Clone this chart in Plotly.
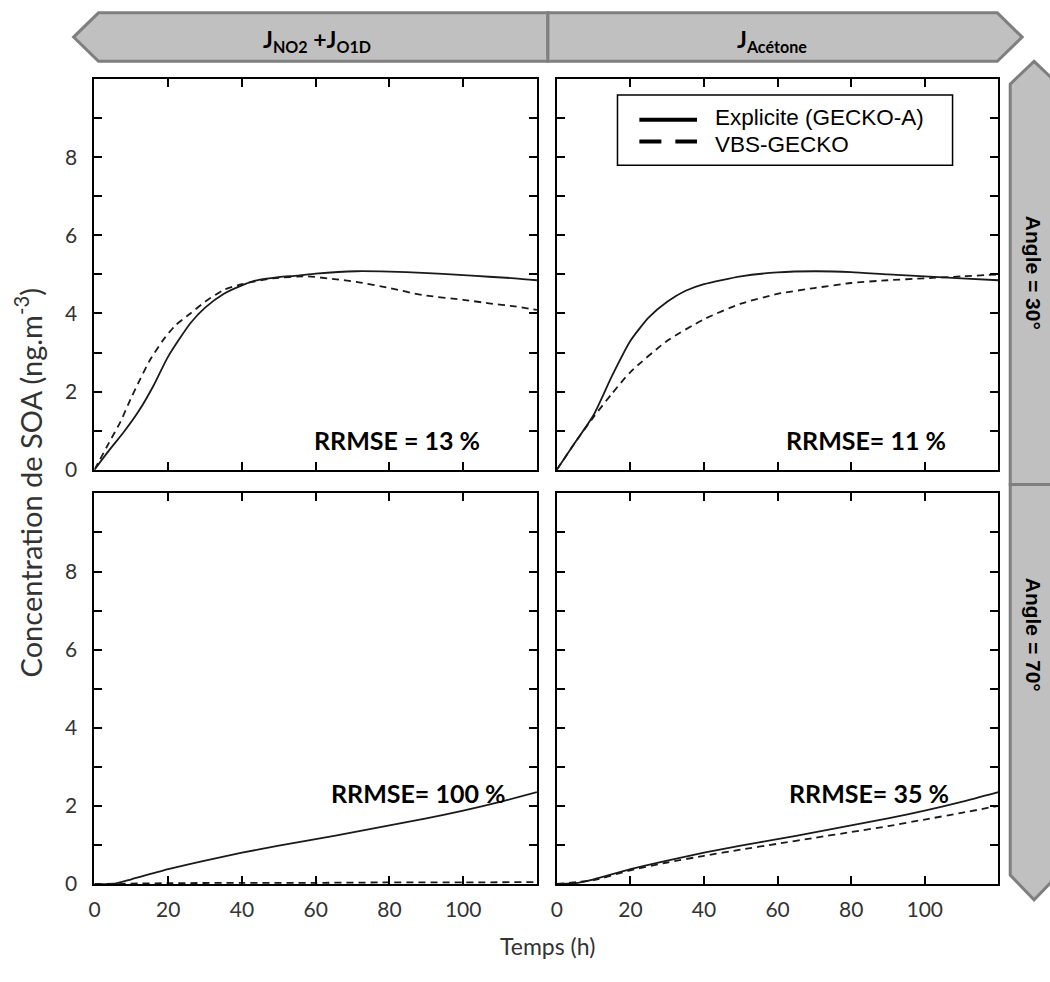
import plotly.graph_objects as go

# ---------------- data ----------------
t_tl_exp = [0, 4, 8, 12, 16, 20, 26, 30, 35, 40, 44, 50, 55, 60, 71, 80, 89, 100, 107, 114, 120]
c_tl_exp = [0, 0.5, 0.97, 1.5, 2.15, 2.9, 3.75, 4.15, 4.5, 4.72, 4.85, 4.93, 4.97, 5.02, 5.08, 5.07, 5.04, 4.98, 4.94, 4.9, 4.85]
t_tl_vbs = [0, 4, 7, 10, 12.4, 15, 18.7, 22, 26, 30, 35, 40, 48.5, 57.5, 65, 71, 80, 89, 100, 107, 114, 120]
c_tl_vbs = [0, 0.7, 1.22, 1.85, 2.32, 2.8, 3.33, 3.7, 4.0, 4.3, 4.6, 4.75, 4.9, 4.95, 4.88, 4.81, 4.65, 4.47, 4.35, 4.26, 4.18, 4.09]

t_tr_exp = [0, 5, 10, 15, 20, 25, 30, 35, 40, 50, 60, 70, 80, 90, 100, 110, 120]
c_tr_exp = [0, 0.7, 1.4, 2.4, 3.3, 3.9, 4.3, 4.58, 4.75, 4.95, 5.05, 5.08, 5.06, 5.0, 4.95, 4.9, 4.85]
t_tr_vbs = [0, 5, 10, 15, 20, 30, 40, 50, 60, 70, 80, 90, 100, 110, 120]
c_tr_vbs = [0, 0.7, 1.35, 1.95, 2.5, 3.3, 3.85, 4.25, 4.5, 4.65, 4.78, 4.85, 4.9, 4.95, 5.0]

t_bl_exp = [0, 5, 10, 20, 30, 40, 50, 60, 70, 80, 90, 100, 110, 120]
c_bl_exp = [0, 0.0, 0.12, 0.38, 0.6, 0.8, 0.98, 1.15, 1.32, 1.5, 1.68, 1.88, 2.1, 2.35]
t_bl_vbs = [0, 20, 40, 60, 80, 100, 120]
c_bl_vbs = [0, 0.02, 0.03, 0.03, 0.04, 0.04, 0.05]

t_br_exp = [0, 5, 10, 20, 30, 40, 50, 60, 70, 80, 90, 100, 110, 120]
c_br_exp = [0, 0.02, 0.12, 0.38, 0.6, 0.8, 0.98, 1.15, 1.32, 1.5, 1.68, 1.88, 2.1, 2.35]
t_br_vbs = [0, 10, 20, 30, 40, 50, 60, 70, 80, 90, 100, 110, 120]
c_br_vbs = [0, 0.1, 0.35, 0.55, 0.72, 0.88, 1.03, 1.18, 1.33, 1.48, 1.65, 1.82, 2.0]

x_tickvals = [0, 20, 40, 60, 80, 100]
y_tickvals = [0, 2, 4, 6, 8]
y_minorvals = [1, 3, 5, 7, 9]

rrmse_labels = ["RRMSE = 13 %", "RRMSE= 11 %", "RRMSE= 100 %", "RRMSE= 35 %"]
col_labels = ["<b>J<sub>NO2</sub> +J<sub>O1D</sub></b>", "<b>J<sub>Acétone</sub></b>"]
row_labels = ["<b>Angle = 30°</b>", "<b>Angle = 70°</b>"]
legend_labels = ["Explicite (GECKO-A)", "VBS-GECKO"]

# ---------------- helpers ----------------
W, H = 1050, 982
def X(px):
    return px / W
def Y(py):
    return 1 - py / H

FONT = "Lato"
fig = go.Figure()

panels = [
    ("x", "y", t_tl_exp, c_tl_exp, t_tl_vbs, c_tl_vbs),
    ("x2", "y2", t_tr_exp, c_tr_exp, t_tr_vbs, c_tr_vbs),
    ("x3", "y3", t_bl_exp, c_bl_exp, t_bl_vbs, c_bl_vbs),
    ("x4", "y4", t_br_exp, c_br_exp, t_br_vbs, c_br_vbs),
]
for xa, ya, te, ce, tv, cv in panels:
    fig.add_trace(go.Scatter(x=te, y=ce, mode="lines", xaxis=xa, yaxis=ya,
                             line=dict(color="#1a1a1a", width=1.8, shape="spline", smoothing=0.6),
                             showlegend=False, hoverinfo="skip"))
    fig.add_trace(go.Scatter(x=tv, y=cv, mode="lines", xaxis=xa, yaxis=ya,
                             line=dict(color="#1a1a1a", width=1.8, dash="7px,5px", shape="spline", smoothing=0.6),
                             showlegend=False, hoverinfo="skip"))

xdom = [[X(89), X(534)], [X(554), X(998)]]
ydom = [[Y(475), Y(80)], [Y(894), Y(499)]]

def xaxis(dom, anchor, labels):
    return dict(domain=dom, anchor=anchor, range=[0, 120], showline=True, linecolor="black",
                linewidth=2, mirror="ticks", ticks="inside", ticklen=8, tickwidth=1.5,
                tickcolor="black", tickvals=x_tickvals, showticklabels=labels,
                showgrid=False, zeroline=False, ticklabelstandoff=6,
                tickfont=dict(family=FONT, size=21, color="#333333"))

def yaxis(dom, anchor, labels):
    return dict(domain=dom, anchor=anchor, range=[0, 10], showline=True, linecolor="black",
                linewidth=2, mirror="ticks", ticks="inside", ticklen=8, tickwidth=1.5,
                tickcolor="black", tickvals=y_tickvals,
                minor=dict(tickvals=y_minorvals, ticks="inside", ticklen=8, tickwidth=1.5,
                           tickcolor="black", showgrid=False),
                showticklabels=labels, showgrid=False, zeroline=False, ticklabelstandoff=11,
                tickfont=dict(family=FONT, size=21, color="#333333"))

fig.update_layout(
    xaxis=xaxis(xdom[0], "y", False), yaxis=yaxis(ydom[0], "x", True),
    xaxis2=xaxis(xdom[1], "y2", False), yaxis2=yaxis(ydom[0], "x2", False),
    xaxis3=xaxis(xdom[0], "y3", True), yaxis3=yaxis(ydom[1], "x3", True),
    xaxis4=xaxis(xdom[1], "y4", True), yaxis4=yaxis(ydom[1], "x4", False),
)

# ---------------- header & side bars ----------------
FILL, EDGE = "#c0c0c0", "#7f7f7f"
def poly(pts):
    s = "M " + " L ".join(f"{X(a):.5f},{Y(b):.5f}" for a, b in pts) + " Z"
    return dict(type="path", path=s, xref="paper", yref="paper", fillcolor=FILL,
                line=dict(color=EDGE, width=3), layer="below")

shapes = [
    poly([(93, 13), (545, 13), (545, 62), (93, 62), (68, 37.5)]),
    poly([(545, 13), (997, 13), (1022, 37.5), (997, 62), (545, 62)]),
    poly([(1010, 85), (1034, 62), (1058, 85), (1058, 490), (1010, 490)]),
    poly([(1010, 490), (1058, 490), (1058, 885), (1034, 910), (1010, 885)]),
]

# legend box
shapes.append(dict(type="rect", xref="paper", yref="paper", x0=X(615), x1=X(952), y0=Y(167), y1=Y(96),
                   line=dict(color="black", width=1.5), fillcolor="white"))
shapes.append(dict(type="line", xref="paper", yref="paper", x0=X(637), x1=X(695), y0=Y(121), y1=Y(121),
                   line=dict(color="black", width=4)))
shapes.append(dict(type="line", xref="paper", yref="paper", x0=X(637), x1=X(695), y0=Y(143), y1=Y(143),
                   line=dict(color="black", width=4, dash="22px,14px")))

def ann(text, px, py, size, family=FONT, color="black", angle=0, xanchor="center"):
    return dict(text=text, x=X(px), y=Y(py), xref="paper", yref="paper", showarrow=False,
                xanchor=xanchor, yanchor="middle", textangle=angle,
                font=dict(family=family, size=size, color=color))

annotations = []
for lab, px in zip(col_labels, [313, 770]):
    annotations.append(ann(lab, px, 41, 23))
for lab, py in zip(row_labels, [276, 642]):
    annotations.append(ann(lab, 1033, py, 21, family="Liberation Sans", angle=90))
for lab, py in zip(legend_labels, [119, 146]):
    annotations.append(ann(lab, 711, py, 22.5, family="Liberation Sans", xanchor="left"))
rr_pos = [(393, 445), (865, 445), (415, 802), (868, 802)]
for lab, (px, py) in zip(rrmse_labels, rr_pos):
    annotations.append(ann(f"<b>{lab}</b>", px, py, 25))
annotations.append(ann("Temps (h)", 545, 957, 23, color="#333333"))
annotations.append(ann("Concentration de SOA (ng.m<sup>-3</sup>)", 22, 488, 29,
                       color="#333333", angle=-90))

fig.update_layout(width=W, height=H, margin=dict(l=0, r=0, t=0, b=0),
                  paper_bgcolor="white", plot_bgcolor="white",
                  shapes=shapes, annotations=annotations, showlegend=False)

fig.write_html("out.html", config={"displayModeBar": False},
               post_script="document.body.style.margin='0';document.body.style.overflow='hidden';")
